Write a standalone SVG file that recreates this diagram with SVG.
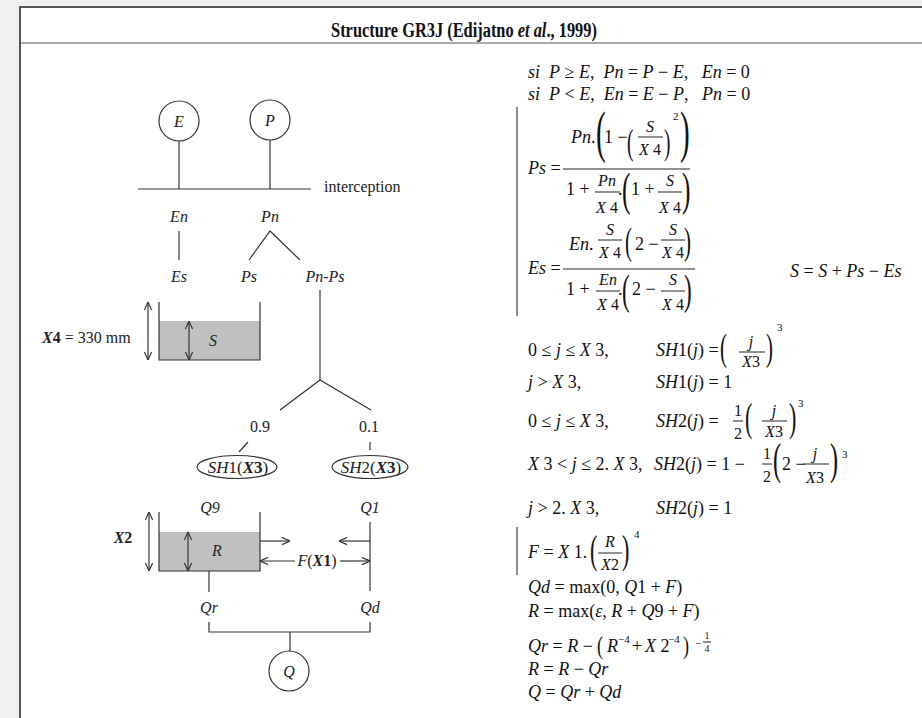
<svg xmlns="http://www.w3.org/2000/svg" width="922" height="718" viewBox="0 0 922 718">
<style>
.t{font-family:"Liberation Serif","Times New Roman",serif;font-size:18px;fill:#111}
.l{font-family:"Liberation Serif","Times New Roman",serif;font-size:16px;fill:#222}
.i{font-style:italic}
.b{font-weight:bold}
.bi{font-weight:bold;font-style:italic}
.sm{font-size:16px}
.sup{font-size:11px}
.mid{text-anchor:middle}
.ln{stroke:#333;stroke-width:1.2;fill:none}
.bar{stroke:#222;stroke-width:1}
.tank{fill:#c0c0c0}
</style>
<defs>
<marker id="ah" viewBox="0 0 10 10" refX="10" refY="5" markerWidth="9" markerHeight="9" markerUnits="userSpaceOnUse" orient="auto-start-reverse">
<path d="M1,1 L10,5 L1,9" fill="none" stroke="#333" stroke-width="1.3"/>
</marker>
</defs>
<rect x="0" y="0" width="922" height="718" fill="#f0f0f0"/>
<rect x="20" y="7" width="910" height="720" fill="#fff" stroke="#555" stroke-width="2"/>
<line x1="21" y1="43" x2="922" y2="43" stroke="#aaa" stroke-width="2"/>
<text transform="translate(464,37) scale(0.82,1)" class="t b mid" style="font-size:20px">Structure GR3J (Edijatno <tspan class="bi">et al</tspan>., 1999)</text>

<!-- connectors -->
<g id="connectors" class="ln">
<line x1="179" y1="141" x2="179" y2="189"/>
<line x1="270" y1="140" x2="270" y2="189"/>
<line x1="138" y1="189" x2="311" y2="189"/>
<line x1="179" y1="231" x2="179" y2="260"/>
<polyline points="249,260 270,231 300,260"/>
<line x1="320" y1="290" x2="320" y2="380"/>
<polyline points="280,410 320,380 371,410"/>
<line x1="248" y1="442" x2="239" y2="452"/>
<line x1="370" y1="442" x2="370" y2="450"/>
<line x1="370" y1="522" x2="370" y2="591"/>
<line x1="260" y1="541" x2="290" y2="541" marker-end="url(#ah)"/>
<line x1="370" y1="541" x2="339" y2="541" marker-end="url(#ah)"/>
<line x1="295" y1="561" x2="260" y2="561" marker-end="url(#ah)"/>
<line x1="340" y1="561" x2="370" y2="561" marker-end="url(#ah)"/>
<line x1="209" y1="571" x2="209" y2="592"/>
<polyline points="209,622 209,632 370,632 370,622"/>
<line x1="290" y1="632" x2="290" y2="651"/>
</g>

<g id="node-E"><circle cx="179" cy="121" r="20" class="ln"/><text x="179" y="127" class="l i mid">E</text></g>
<g id="node-P"><circle cx="270" cy="120" r="20" class="ln"/><text x="270" y="126" class="l i mid">P</text></g>
<g id="label-interception"><text x="324" y="192" class="l">interception</text></g>
<g id="label-En"><text x="179" y="222" class="l i mid">En</text></g>
<g id="label-Pn"><text x="270" y="222" class="l i mid">Pn</text></g>
<g id="label-Es"><text x="179" y="282" class="l i mid">Es</text></g>
<g id="label-Ps"><text x="249" y="282" class="l i mid">Ps</text></g>
<g id="label-PnPs"><text x="325" y="282" class="l i mid">Pn-Ps</text></g>

<g id="tank-S">
<rect x="159" y="321" width="101" height="39" class="tank"/>
<polyline points="159,302 159,360 260,360 260,302" class="ln"/>
<line x1="148" y1="302" x2="148" y2="360" class="ln" marker-start="url(#ah)" marker-end="url(#ah)"/>
<line x1="189" y1="321" x2="189" y2="360" class="ln" marker-start="url(#ah)" marker-end="url(#ah)"/>
<text x="213" y="346" class="l i mid">S</text>
<text x="42" y="343" class="l"><tspan class="bi">X</tspan><tspan class="b">4</tspan> = 330 mm</text>
</g>

<g id="label-09"><text x="260" y="432" class="l mid">0.9</text></g>
<g id="label-01"><text x="369" y="432" class="l mid">0.1</text></g>
<g id="node-SH1"><ellipse cx="237" cy="467" rx="40" ry="11.5" class="ln"/><text x="238" y="473" class="l mid" style="font-size:17px"><tspan class="i">SH</tspan>1(<tspan class="bi">X</tspan><tspan class="b">3</tspan>)</text></g>
<g id="node-SH2"><ellipse cx="370" cy="467" rx="38" ry="11.5" class="ln"/><text x="371" y="473" class="l mid" style="font-size:17px"><tspan class="i">SH</tspan>2(<tspan class="bi">X</tspan><tspan class="b">3</tspan>)</text></g>
<g id="label-Q9"><text x="210" y="513" class="l i mid">Q9</text></g>
<g id="label-Q1"><text x="370" y="513" class="l i mid">Q1</text></g>

<g id="tank-R">
<rect x="159" y="532" width="101" height="39" class="tank"/>
<polyline points="159,512 159,571 260,571 260,512" class="ln"/>
<line x1="149" y1="512" x2="149" y2="571" class="ln" marker-start="url(#ah)" marker-end="url(#ah)"/>
<line x1="188" y1="532" x2="188" y2="571" class="ln" marker-start="url(#ah)" marker-end="url(#ah)"/>
<text x="217" y="556" class="l i mid">R</text>
<text x="123" y="543" class="l mid"><tspan class="bi">X</tspan><tspan class="b">2</tspan></text>
</g>
<g id="label-FX1"><text x="317" y="566" class="l mid"><tspan class="i">F</tspan>(<tspan class="bi">X</tspan><tspan class="b">1</tspan>)</text></g>
<g id="label-Qr"><text x="209" y="613" class="l i mid">Qr</text></g>
<g id="label-Qd"><text x="370" y="613" class="l i mid">Qd</text></g>
<g id="node-Q"><circle cx="289" cy="671" r="20" class="ln"/><text x="289" y="677" class="l i mid">Q</text></g>

<!-- equations -->
<g id="equations">
<text x="528" y="78" class="t"><tspan class="i">si&#160; P</tspan> ≥ <tspan class="i">E</tspan>,&#160; <tspan class="i">Pn</tspan> = <tspan class="i">P</tspan> − <tspan class="i">E</tspan>,&#160;&#160;&#160;<tspan class="i">En</tspan> = 0</text>
<text x="528" y="100" class="t"><tspan class="i">si&#160; P</tspan> &lt; <tspan class="i">E</tspan>,&#160; <tspan class="i">En</tspan> = <tspan class="i">E</tspan> − <tspan class="i">P</tspan>,&#160;&#160;&#160;<tspan class="i">Pn</tspan> = 0</text>
<line x1="517" y1="107" x2="517" y2="316" stroke="#666" stroke-width="1.5"/>

<!-- Ps -->
<text x="528" y="174" class="t"><tspan class="i">Ps</tspan> =</text>
<line x1="563" y1="169" x2="690" y2="169" class="bar"/>
<text x="571" y="143" class="t"><tspan class="i">Pn</tspan>.</text>
<text transform="translate(596,151) scale(0.52,1)" class="t" style="font-size:56px">(</text>
<text x="604" y="143" class="t">1 −</text>
<text transform="translate(627,154) scale(0.55,1)" class="t" style="font-size:35px">(</text>
<text x="650" y="132" class="t i mid sm">S</text>
<line x1="638" y1="137" x2="663" y2="137" class="bar"/>
<text x="650" y="155" class="t i mid sm">X<tspan font-style="normal"> 4</tspan></text>
<text transform="translate(664,154) scale(0.55,1)" class="t" style="font-size:35px">)</text>
<text x="673" y="120" class="t sup">2</text>
<text transform="translate(680,151) scale(0.52,1)" class="t" style="font-size:56px">)</text>
<text x="566" y="195" class="t">1 +</text>
<text x="607" y="186" class="t i mid sm">Pn</text>
<line x1="595" y1="192" x2="620" y2="192" class="bar"/>
<text x="607" y="213" class="t i mid sm">X<tspan font-style="normal"> 4</tspan></text>
<text x="618" y="195" class="t">.</text>
<text transform="translate(622,205) scale(0.55,1)" class="t" style="font-size:46px">(</text>
<text x="631" y="195" class="t">1 +</text>
<text x="670" y="186" class="t i mid sm">S</text>
<line x1="658" y1="192" x2="682" y2="192" class="bar"/>
<text x="670" y="213" class="t i mid sm">X<tspan font-style="normal"> 4</tspan></text>
<text transform="translate(682,205) scale(0.55,1)" class="t" style="font-size:46px">)</text>

<!-- Es -->
<text x="528" y="274" class="t"><tspan class="i">Es</tspan> =</text>
<line x1="563" y1="269" x2="695" y2="269" class="bar"/>
<text x="569" y="250" class="t"><tspan class="i">En</tspan>.</text>
<text x="610" y="235" class="t i mid sm">S</text>
<line x1="598" y1="240" x2="622" y2="240" class="bar"/>
<text x="610" y="258" class="t i mid sm">X<tspan font-style="normal"> 4</tspan></text>
<text transform="translate(625,254) scale(0.55,1)" class="t" style="font-size:38px">(</text>
<text x="635" y="250" class="t">2 −</text>
<text x="673" y="235" class="t i mid sm">S</text>
<line x1="661" y1="240" x2="685" y2="240" class="bar"/>
<text x="673" y="258" class="t i mid sm">X<tspan font-style="normal"> 4</tspan></text>
<text transform="translate(684,254) scale(0.55,1)" class="t" style="font-size:38px">)</text>
<text x="566" y="295" class="t">1 +</text>
<text x="608" y="285" class="t i mid sm">En</text>
<line x1="596" y1="291" x2="620" y2="291" class="bar"/>
<text x="608" y="310" class="t i mid sm">X<tspan font-style="normal"> 4</tspan></text>
<text x="618" y="295" class="t">.</text>
<text transform="translate(622,304) scale(0.55,1)" class="t" style="font-size:42px">(</text>
<text x="632" y="295" class="t">2 −</text>
<text x="673" y="285" class="t i mid sm">S</text>
<line x1="661" y1="291" x2="685" y2="291" class="bar"/>
<text x="673" y="310" class="t i mid sm">X<tspan font-style="normal"> 4</tspan></text>
<text transform="translate(684,304) scale(0.55,1)" class="t" style="font-size:42px">)</text>

<text x="790" y="277" class="t"><tspan class="i">S</tspan> = <tspan class="i">S</tspan> + <tspan class="i">Ps</tspan> − <tspan class="i">Es</tspan></text>

<!-- SH rows -->
<text x="528" y="356" class="t">0 ≤ <tspan class="i">j</tspan> ≤ <tspan class="i">X</tspan> 3,</text>
<text x="656" y="356" class="t"><tspan class="i">SH</tspan>1(<tspan class="i">j</tspan>) =</text>
<text transform="translate(720,360) scale(0.55,1)" class="t" style="font-size:38px">(</text>
<text x="751" y="347" class="t i mid sm">j</text>
<line x1="739" y1="352" x2="765" y2="352" class="bar"/>
<text x="751" y="367" class="t i mid sm">X<tspan font-style="normal">3</tspan></text>
<text transform="translate(766,360) scale(0.55,1)" class="t" style="font-size:38px">)</text>
<text x="777" y="331" class="t sup">3</text>

<text x="528" y="388" class="t"><tspan class="i">j</tspan> &gt; <tspan class="i">X</tspan> 3,</text>
<text x="656" y="388" class="t"><tspan class="i">SH</tspan>1(<tspan class="i">j</tspan>) = 1</text>

<text x="528" y="427" class="t">0 ≤ <tspan class="i">j</tspan> ≤ <tspan class="i">X</tspan> 3,</text>
<text x="656" y="427" class="t"><tspan class="i">SH</tspan>2(<tspan class="i">j</tspan>) =</text>
<text x="738" y="416" class="t mid sm">1</text>
<line x1="733" y1="421" x2="743" y2="421" class="bar"/>
<text x="738" y="439" class="t mid sm">2</text>
<text transform="translate(745,431) scale(0.55,1)" class="t" style="font-size:40px">(</text>
<text x="774" y="416" class="t i mid sm">j</text>
<line x1="762" y1="421" x2="787" y2="421" class="bar"/>
<text x="774" y="437" class="t i mid sm">X<tspan font-style="normal">3</tspan></text>
<text transform="translate(789,431) scale(0.55,1)" class="t" style="font-size:40px">)</text>
<text x="798" y="407" class="t sup">3</text>

<text x="528" y="470" class="t"><tspan class="i">X</tspan> 3 &lt; <tspan class="i">j</tspan> ≤ 2. <tspan class="i">X</tspan> 3,</text>
<text x="654" y="470" class="t"><tspan class="i">SH</tspan>2(<tspan class="i">j</tspan>) = 1 −</text>
<text x="767" y="459" class="t mid sm">1</text>
<line x1="762" y1="464" x2="772" y2="464" class="bar"/>
<text x="767" y="482" class="t mid sm">2</text>
<text transform="translate(773,474) scale(0.55,1)" class="t" style="font-size:44px">(</text>
<text x="782" y="470" class="t">2 −</text>
<text x="815" y="459" class="t i mid sm">j</text>
<line x1="803" y1="464" x2="829" y2="464" class="bar"/>
<text x="815" y="483" class="t i mid sm">X<tspan font-style="normal">3</tspan></text>
<text transform="translate(830,474) scale(0.55,1)" class="t" style="font-size:44px">)</text>
<text x="842" y="458" class="t sup">3</text>

<text x="528" y="514" class="t"><tspan class="i">j</tspan> &gt; 2. <tspan class="i">X</tspan> 3,</text>
<text x="656" y="514" class="t"><tspan class="i">SH</tspan>2(<tspan class="i">j</tspan>) = 1</text>

<!-- F -->
<line x1="517" y1="527" x2="517" y2="575" stroke="#666" stroke-width="1.5"/>
<text x="528" y="558" class="t"><tspan class="i">F</tspan> = <tspan class="i">X</tspan> 1.</text>
<text transform="translate(590,563) scale(0.55,1)" class="t" style="font-size:40px">(</text>
<text x="610" y="547" class="t i mid sm">R</text>
<line x1="598" y1="553" x2="622" y2="553" class="bar"/>
<text x="610" y="570" class="t i mid sm">X<tspan font-style="normal">2</tspan></text>
<text transform="translate(622,563) scale(0.55,1)" class="t" style="font-size:40px">)</text>
<text x="634" y="538" class="t sup">4</text>

<text x="528" y="593" class="t"><tspan class="i">Qd</tspan> = max(0, <tspan class="i">Q</tspan>1 + <tspan class="i">F</tspan>)</text>
<text x="528" y="617" class="t"><tspan class="i">R</tspan> = max(<tspan class="i">ε</tspan>, <tspan class="i">R</tspan> + <tspan class="i">Q</tspan>9 + <tspan class="i">F</tspan>)</text>

<text x="528" y="652" class="t"><tspan class="i">Qr</tspan> = <tspan class="i">R</tspan> −</text>
<text transform="translate(597,654) scale(0.7,1)" class="t" style="font-size:26px">(</text>
<text x="607" y="652" class="t i">R</text>
<text x="618" y="643" class="t sup">−4</text>
<text x="632" y="652" class="t">+</text>
<text x="645" y="652" class="t"><tspan class="i">X</tspan> 2</text>
<text x="668" y="643" class="t sup">−4</text>
<text transform="translate(683,654) scale(0.7,1)" class="t" style="font-size:26px">)</text>
<text x="695" y="647" class="t sup">−</text>
<text x="707" y="639" class="t sup mid" style="font-size:10px">1</text>
<line x1="703" y1="642" x2="711" y2="642" class="bar" stroke-width="0.8"/>
<text x="707" y="652" class="t sup mid" style="font-size:10px">4</text>
<text x="528" y="675" class="t"><tspan class="i">R</tspan> = <tspan class="i">R</tspan> − <tspan class="i">Qr</tspan></text>
<text x="528" y="698" class="t"><tspan class="i">Q</tspan> = <tspan class="i">Qr</tspan> + <tspan class="i">Qd</tspan></text>
</g>
</svg>
